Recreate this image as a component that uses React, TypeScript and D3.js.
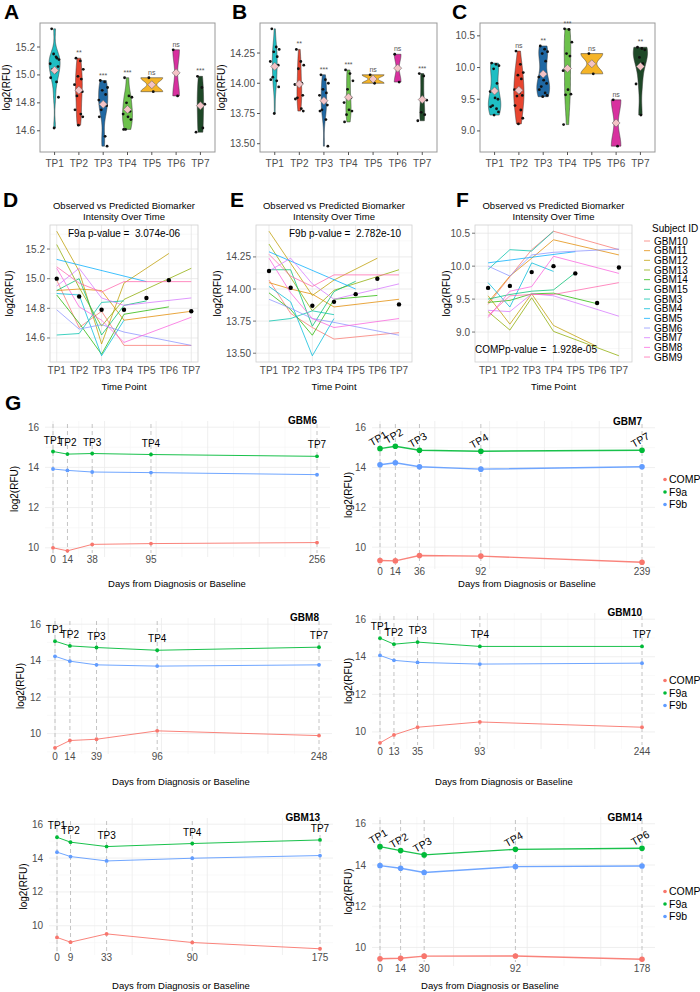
import React from 'react';
import * as d3 from 'd3';

const FONT = '"Liberation Sans", Arial, Helvetica, sans-serif';

const TIMEPOINTS = ['TP1', 'TP2', 'TP3', 'TP4', 'TP5', 'TP6', 'TP7'];
const TP_COLORS = ['#1fbec3', '#e8452f', '#1f68a3', '#6cc14b', '#f5b427', '#d8309f', '#1e4827'];

// observations per time point (violins)
const f9aByTp = [
  [15.33, 15.13, 15.11, 15.15, 15.12, 15.08, 15.02, 15.06, 15.04, 14.98, 14.95, 14.84, 14.62],
  [15.12, 15.10, 15.04, 14.99, 14.97, 14.93, 14.89, 14.88, 14.85, 14.75, 14.72, 14.70, 14.64],
  [14.96, 14.95, 14.91, 14.89, 14.86, 14.82, 14.80, 14.78, 14.75, 14.70, 14.56, 14.49],
  [14.98, 14.85, 14.84, 14.80, 14.74, 14.72, 14.70, 14.68, 14.61, 14.61],
  [14.98, 14.88],
  [15.18, 14.85],
  [14.99, 14.91, 14.79, 14.78, 14.62, 14.59],
];
const f9bByTp = [
  [14.45, 14.30, 14.28, 14.26, 14.22, 14.18, 14.15, 14.15, 14.05, 14.03, 14.02, 13.97, 13.75],
  [14.28, 14.18, 14.15, 14.12, 14.00, 13.99, 13.99, 13.90, 13.88, 13.87, 13.79, 13.77],
  [14.07, 14.03, 14.00, 13.95, 13.92, 13.90, 13.85, 13.82, 13.78, 13.77, 13.70, 13.48],
  [14.11, 14.08, 14.02, 13.95, 13.88, 13.84, 13.78, 13.77, 13.74, 13.68],
  [14.07, 14.00],
  [14.24, 14.01],
  [14.08, 14.06, 13.86, 13.76, 13.74, 13.69],
];
const compByTp = [
  [10.07, 10.05, 10.03, 9.98, 9.75, 9.62, 9.52, 9.50, 9.40, 9.38, 9.35, 9.30, 9.25],
  [10.26, 10.05, 9.92, 9.88, 9.82, 9.65, 9.60, 9.56, 9.55, 9.40, 9.33, 9.20, 9.11],
  [10.34, 10.29, 10.25, 10.22, 10.10, 9.85, 9.80, 9.75, 9.70, 9.65, 9.60, 9.56, 9.54],
  [10.61, 10.60, 10.40, 10.22, 10.18, 9.95, 9.65, 9.58, 9.57, 9.10],
  [10.22, 9.90],
  [9.49, 8.76],
  [10.32, 10.30, 10.28, 10.16, 10.06, 9.74, 9.25],
];

const sigF9a = ['', '**', '***', '***', 'ns', 'ns', '***'];
const sigF9b = ['', '**', '***', '***', 'ns', 'ns', '***'];
const sigComp = ['', 'ns', '**', '***', 'ns', 'ns', '**'];

const ticksF9a = [14.6, 14.8, 15.0, 15.2];
const ticksF9b = [13.5, 13.75, 14.0, 14.25];
const ticksComp = [9.0, 9.5, 10.0, 10.5];

// per-subject trajectories, TP1..TP7 (null = not sampled)
const SUBJECTS = ['GBM10', 'GBM11', 'GBM12', 'GBM13', 'GBM14', 'GBM15', 'GBM3', 'GBM4', 'GBM5', 'GBM6', 'GBM7', 'GBM8', 'GBM9'];
const SUBJECT_COLORS = ['#F8766D', '#E18A00', '#BE9C00', '#8CAB00', '#24B700', '#00BE70', '#00C1AB', '#00BBDA', '#00ACFC', '#8B93FF', '#D575FE', '#F962DD', '#FF65AC'];

const f9aBySubject = [
  [14.99, 14.67, 14.78, 14.55, null, null, 14.55],
  [14.92, 14.93, 14.92, 14.72, null, null, 14.78],
  [15.32, 15.05, 14.56, 14.97, null, 15.17, null],
  [15.23, 14.94, 14.68, 14.86, null, null, 15.07],
  [14.89, 14.70, 14.49, 14.76, null, 14.81, null],
  [14.92, 15.00, 14.62, 14.82, 14.85, null, null],
  [14.62, 14.63, 14.84, 14.85, null, null, null],
  [14.90, 14.89, 14.48, 14.72, null, null, null],
  [15.13, null, null, null, 14.98, null, null],
  [14.79, 14.66, 14.69, 14.64, null, null, 14.55],
  [14.95, 15.07, 14.87, 14.82, null, null, 14.87],
  [15.07, 14.81, 14.72, 14.57, null, null, 14.74],
  [15.08, 14.97, 14.91, 14.98, null, null, 14.98],
];
const f9bBySubject = [
  [14.07, 13.81, 13.70, 13.61, null, null, 13.66],
  [14.05, 14.00, 13.96, 13.86, null, null, 13.92],
  [14.45, 14.20, 13.95, 14.07, null, 14.24, null],
  [14.35, 14.09, 13.83, 13.99, null, null, 14.15],
  [13.97, 13.84, 13.64, 13.92, null, 13.95, null],
  [14.15, 14.15, 13.71, 13.98, 14.06, null, null],
  [13.75, 13.77, 13.83, 13.80, null, null, null],
  [14.02, 13.90, 13.48, 13.77, null, null, null],
  [14.29, null, null, null, 14.00, null, null],
  [13.92, 13.85, 13.77, 13.74, null, null, 13.64],
  [14.14, 14.24, 14.04, 13.92, null, null, 14.04],
  [14.24, 13.97, 13.77, 13.70, null, null, 13.77],
  [14.27, 14.10, 14.02, 14.11, null, null, 14.11],
];
const compBySubject = [
  [9.42, 9.84, 10.25, 10.53, null, null, 10.25],
  [9.45, 9.85, 10.12, 10.40, null, null, 10.17],
  [9.55, 9.12, 9.58, 9.10, null, 8.78, null],
  [9.31, 9.03, 9.52, 9.01, null, null, 8.64],
  [9.45, 9.48, 9.58, 9.59, null, 9.43, null],
  [9.50, 9.57, 9.62, 9.64, 9.90, null, null],
  [9.95, 10.25, 10.23, 10.53, null, null, null],
  [9.75, 9.38, 10.05, 9.92, null, null, null],
  [10.05, null, null, null, 10.22, null, null],
  [10.00, 9.85, 10.17, 10.21, null, null, 10.26],
  [9.33, 9.31, 9.58, 9.55, null, null, 9.24],
  [9.22, 9.62, 9.69, 10.15, null, null, 9.89],
  [9.25, 9.55, 9.57, 9.57, null, null, 9.75],
];

// model predictions (black dots)
const predF9a = [15.00, 14.88, 14.79, 14.79, 14.87, 14.99, 14.78];
const predF9b = [14.14, 14.01, 13.87, 13.90, 13.96, 14.08, 13.88];
const predComp = [9.67, 9.70, 9.91, 10.00, 9.89, 9.44, 9.98];

// individual timelines
const caseIds = ['GBM6', 'GBM7', 'GBM8', 'GBM10', 'GBM13', 'GBM14'];
const caseDays = [
  [0, 14, 38, 95, 256],
  [0, 14, 36, 92, 239],
  [0, 14, 39, 96, 248],
  [0, 13, 35, 93, 244],
  [0, 9, 33, 90, 175],
  [0, 14, 30, 92, 178],
];
const caseTps = [
  [0, 1, 2, 3, 6],
  [0, 1, 2, 3, 6],
  [0, 1, 2, 3, 6],
  [0, 1, 2, 3, 6],
  [0, 1, 2, 3, 6],
  [0, 1, 2, 3, 5],
];
const MARKERS = ['COMP', 'F9a', 'F9b'];
const MARKER_COLORS = ['#F8766D', '#00BA38', '#619CFF'];

const JITTER = [-0.6, 0.3, 0.9, -0.2, 0.5, -0.9, 0.1, 0.7, -0.4, -0.8, 0.4, 0.8, -0.1];

const gauss = (u: number) => Math.exp(-0.5 * u * u) / Math.sqrt(2 * Math.PI);

// gaussian kde trimmed to the data range, nrd0 bandwidth
function kde(values: number[], steps = 80): [number, number][] {
  const v = [...values].sort(d3.ascending);
  const sd = d3.deviation(v) ?? 0;
  const iqr = (d3.quantile(v, 0.75) ?? 0) - (d3.quantile(v, 0.25) ?? 0);
  let lo = Math.min(sd, iqr / 1.34);
  if (!(lo > 0)) lo = sd || 1;
  const bw = 0.9 * lo * Math.pow(v.length, -0.2);
  const [a, b] = d3.extent(v) as [number, number];
  return d3.range(steps + 1).map(i => {
    const y = a + ((b - a) * i) / steps;
    return [y, (d3.mean(v, x => gauss((y - x) / bw)) ?? 0) / bw];
  });
}

const paddedExtent = (vals: number[]) => {
  const [mn, mx] = d3.extent(vals) as [number, number];
  const p = (mx - mn) * 0.05;
  return [mn - p, mx + p];
};

const violinPanels = [
  { letter: 'A', letterX: 4, groups: f9aByTp, ticks: ticksF9a, fmt: '.1f', sig: sigF9a, left: 40, right: 215, ylabX: 7 },
  { letter: 'B', letterX: 232, groups: f9bByTp, ticks: ticksF9b, fmt: '.2f', sig: sigF9b, left: 260, right: 437, ylabX: 222 },
  { letter: 'C', letterX: 452, groups: compByTp, ticks: ticksComp, fmt: '.1f', sig: sigComp, left: 480, right: 655, ylabX: null },
];

function ViolinPanel({ cfg }: { cfg: any }) {
  const top = 23, bottom = 152;
  const x = d3.scalePoint<string>().domain(TIMEPOINTS).range([cfg.left, cfg.right]).padding(0.6);
  const y = d3.scaleLinear().domain(paddedExtent(cfg.groups.flat())).range([bottom, top]);
  const dens = cfg.groups.map((g: number[]) => kde(g));
  // equal-area violins: widths share one density scale across the panel
  const dMax = d3.max(dens.flat() as [number, number][], d => d[1]) ?? 1;
  const half = x.step() * 0.45;
  const fmt = d3.format(cfg.fmt);
  return (
    <g>
      <text x={cfg.letterX} y={19} fontSize={21} fontWeight="bold" fontFamily={FONT}>{cfg.letter}</text>
      <rect x={cfg.left} y={top} width={cfg.right - cfg.left} height={bottom - top} fill="#fff" stroke="#999" strokeWidth={1} />
      {cfg.ticks.map((t: number) => (
        <g key={t}>
          <line x1={cfg.left - 3} x2={cfg.left} y1={y(t)} y2={y(t)} stroke="#555" />
          <text x={cfg.left - 5} y={y(t) + 3.5} textAnchor="end" fontSize={10} fill="#4d4d4d" fontFamily={FONT}>{fmt(t)}</text>
        </g>
      ))}
      {cfg.groups.map((g: number[], i: number) => {
        const tp = TIMEPOINTS[i];
        const cx = x(tp) as number;
        const hw = (d: [number, number]) => half * (d[1] / dMax);
        const area = d3.area<[number, number]>()
          .y(d => y(d[0]))
          .x0(d => cx - hw(d))
          .x1(d => cx + hw(d));
        const m = d3.mean(g) as number;
        const my = y(m);
        const dd = 4;
        return (
          <g key={tp}>
            <path d={area(dens[i]) ?? ''} fill={TP_COLORS[i]} stroke="#333" strokeWidth={0.5} />
            {g.map((v, j) => (
              <circle key={j} cx={cx + JITTER[j % JITTER.length] * x.step() * 0.2} cy={y(v)} r={1.4} fill="#111" />
            ))}
            <path d={`M${cx},${my - dd}L${cx + dd},${my}L${cx},${my + dd}L${cx - dd},${my}Z`} fill="#f4c3c6" stroke="#6a6a6a" strokeWidth={0.6} />
            {cfg.sig[i] && (
              <text x={cx} y={y(d3.max(g) as number) - 3} textAnchor="middle" fontSize={7} fill="#555" fontFamily={FONT}>{cfg.sig[i]}</text>
            )}
            <line x1={cx} x2={cx} y1={bottom} y2={bottom + 3} stroke="#555" />
            <text x={cx} y={167} textAnchor="middle" fontSize={10} fill="#4d4d4d" fontFamily={FONT}>{tp}</text>
          </g>
        );
      })}
      {cfg.ylabX != null && (
        <text transform={`translate(${cfg.ylabX + 3},${(top + bottom) / 2}) rotate(-90)`} textAnchor="middle" fontSize={10} fontFamily={FONT}>log2(RFU)</text>
      )}
    </g>
  );
}

const trendPanels = [
  { letter: 'D', letterX: 3, data: f9aBySubject, pred: predF9a, ticks: ticksF9a, fmt: '.1f', note: 'F9a p-value =  3.074e-06', noteX: 124, noteY: 237, left: 50, right: 198, pad: 0.3, ylabX: 10 },
  { letter: 'E', letterX: 230, data: f9bBySubject, pred: predF9b, ticks: ticksF9b, fmt: '.2f', note: 'F9b p-value =  2.782e-10', noteX: 345, noteY: 237, left: 256, right: 412, pad: 0.6, ylabX: 218 },
  { letter: 'F', letterX: 456, data: compBySubject, pred: predComp, ticks: ticksComp, fmt: '.1f', note: 'COMPp-value =  1.928e-05', noteX: 536, noteY: 353, left: 475, right: 632, pad: 0.6, ylabX: 447 },
];

function TrendPanel({ cfg }: { cfg: any }) {
  const top = 225, bottom = 362;
  const x = d3.scalePoint<string>().domain(TIMEPOINTS).range([cfg.left, cfg.right]).padding(cfg.pad);
  const vals = (cfg.data as (number | null)[][]).flat().filter((v): v is number => v != null);
  const y = d3.scaleLinear().domain(paddedExtent(vals)).range([bottom, top]);
  const fmt = d3.format(cfg.fmt);
  const step = cfg.ticks[1] - cfg.ticks[0];
  const minor = d3.range(cfg.ticks[0] - step / 2, cfg.ticks[cfg.ticks.length - 1] + step, step).filter(v => y(v) > top && y(v) < bottom);
  const line = d3.line<[number, number]>();
  const cx = (cfg.left + cfg.right) / 2;
  return (
    <g fontFamily={FONT}>
      <text x={cfg.letterX} y={207} fontSize={21} fontWeight="bold">{cfg.letter}</text>
      <text x={cx} y={209} textAnchor="middle" fontSize={9.5}>Observed vs Predicted Biomarker</text>
      <text x={cx} y={220} textAnchor="middle" fontSize={9.5}>Intensity Over Time</text>
      <rect x={cfg.left} y={top} width={cfg.right - cfg.left} height={bottom - top} fill="#fff" />
      {minor.map(v => <line key={'m' + v} x1={cfg.left} x2={cfg.right} y1={y(v)} y2={y(v)} stroke="#f4f4f4" strokeWidth={0.6} />)}
      {cfg.ticks.map((t: number) => <line key={'g' + t} x1={cfg.left} x2={cfg.right} y1={y(t)} y2={y(t)} stroke="#e6e6e6" strokeWidth={0.8} />)}
      {TIMEPOINTS.map(tp => <line key={'v' + tp} x1={x(tp)} x2={x(tp)} y1={top} y2={bottom} stroke="#e6e6e6" strokeWidth={0.8} />)}
      <rect x={cfg.left} y={top} width={cfg.right - cfg.left} height={bottom - top} fill="none" stroke="#d0d0d0" strokeWidth={0.8} />
      {(cfg.data as (number | null)[][]).map((row, i) => {
        const pts = row
          .map((v, t) => (v == null ? null : [x(TIMEPOINTS[t]) as number, y(v)] as [number, number]))
          .filter((p): p is [number, number] => p != null);
        return <path key={SUBJECTS[i]} d={line(pts) ?? ''} fill="none" stroke={SUBJECT_COLORS[i]} strokeOpacity={0.75} strokeWidth={1} />;
      })}
      {cfg.pred.map((v: number, i: number) => <circle key={i} cx={x(TIMEPOINTS[i])} cy={y(v)} r={2.2} fill="#000" />)}
      <text x={cfg.noteX} y={cfg.noteY} textAnchor="middle" fontSize={10} style={{ whiteSpace: 'pre' }}>{cfg.note}</text>
      {cfg.ticks.map((t: number) => (
        <g key={t}>
          <line x1={cfg.left - 3} x2={cfg.left} y1={y(t)} y2={y(t)} stroke="#777" />
          <text x={cfg.left - 5} y={y(t) + 3.5} textAnchor="end" fontSize={10} fill="#4d4d4d">{fmt(t)}</text>
        </g>
      ))}
      {TIMEPOINTS.map(tp => <text key={tp} x={x(tp)} y={374} textAnchor="middle" fontSize={10} fill="#4d4d4d">{tp}</text>)}
      <text x={cx} y={390} textAnchor="middle" fontSize={9.5}>Time Point</text>
      <text transform={`translate(${cfg.ylabX + 3},${(top + bottom) / 2}) rotate(-90)`} textAnchor="middle" fontSize={10}>log2(RFU)</text>
    </g>
  );
}

function SubjectLegend() {
  return (
    <g fontFamily={FONT}>
      <text x={652} y={232} fontSize={10}>Subject ID</text>
      {SUBJECTS.map((s, i) => {
        const yy = 241 + i * 9.67;
        return (
          <g key={s}>
            <line x1={644} x2={650} y1={yy} y2={yy} stroke={SUBJECT_COLORS[i]} strokeOpacity={0.75} strokeWidth={1} />
            <text x={654} y={yy + 3.5} fontSize={10}>{s}</text>
          </g>
        );
      })}
    </g>
  );
}

const casePanels = [
  { left: 45, right: 330, top: 421, bottom: 557, titleX: 177, titleY: 587, ylabX: 15, legendY: null, angle: 0, big: false },
  { left: 372, right: 655, top: 421, bottom: 569, titleX: 527, titleY: 587, ylabX: 349, legendY: 492, angle: -30, big: true },
  { left: 47, right: 332, top: 618, bottom: 754, titleX: 181, titleY: 785, ylabX: 21, legendY: null, angle: 0, big: false },
  { left: 372, right: 655, top: 613, bottom: 749, titleX: 504, titleY: 785, ylabX: 349, legendY: 693, angle: 0, big: false },
  { left: 49, right: 333, top: 818, bottom: 955, titleX: 181, titleY: 989, ylabX: 24, legendY: null, angle: 0, big: false },
  { left: 372, right: 655, top: 817, bottom: 966, titleX: 490, titleY: 989, ylabX: 349, legendY: 904, angle: -30, big: true },
];

function CasePanel({ idx }: { idx: number }) {
  const cfg = casePanels[idx];
  const s = SUBJECTS.indexOf(caseIds[idx]);
  const days = caseDays[idx];
  const tps = caseTps[idx];
  const series = [compBySubject, f9aBySubject, f9bBySubject].map(src => tps.map(t => src[s][t] as number));
  const x = d3.scaleLinear().domain([0, d3.max(days) as number]).range([cfg.left + 8, cfg.right - 13]);
  const minV = d3.min(series.flat()) as number;
  const ext = (16 - minV) * 0.05;
  const y = d3.scaleLinear().domain([minV - ext, 16 + ext]).range([cfg.bottom, cfg.top]);
  const major = y.ticks(4).filter(v => v % 2 === 0);
  const minor = d3.range(Math.ceil(minV - ext), 17).filter(v => v % 2 === 1 && y(v) > cfg.top && y(v) < cfg.bottom);
  const vGrid = x.ticks(5);
  const vMinor = d3.range(25, x.domain()[1], 50);
  const r = cfg.big ? 2.8 : 1.9;
  const sw = cfg.big ? 1.4 : 1;
  const line = d3.line<number>().x((_, i) => x(days[i])).y(v => y(v));
  return (
    <g fontFamily={FONT}>
      {minor.map(v => <line key={'m' + v} x1={cfg.left} x2={cfg.right} y1={y(v)} y2={y(v)} stroke="#f5f5f5" strokeWidth={0.6} />)}
      {vMinor.map(v => <line key={'vm' + v} x1={x(v)} x2={x(v)} y1={cfg.top} y2={cfg.bottom} stroke="#f5f5f5" strokeWidth={0.6} />)}
      {major.map(v => <line key={'g' + v} x1={cfg.left} x2={cfg.right} y1={y(v)} y2={y(v)} stroke="#ebebeb" strokeWidth={0.8} />)}
      {vGrid.map(v => <line key={'vg' + v} x1={x(v)} x2={x(v)} y1={cfg.top} y2={cfg.bottom} stroke="#ebebeb" strokeWidth={0.8} />)}
      {days.map(d => <line key={'d' + d} x1={x(d)} x2={x(d)} y1={cfg.top + 3} y2={cfg.bottom - 4} stroke="#b5b5b5" strokeWidth={0.8} strokeDasharray="4,3" />)}
      {series.map((vals, k) => (
        <g key={MARKERS[k]}>
          <path d={line(vals) ?? ''} fill="none" stroke={MARKER_COLORS[k]} strokeWidth={sw} strokeOpacity={0.9} />
          {vals.map((v, i) => <circle key={i} cx={x(days[i])} cy={y(v)} r={r} fill={MARKER_COLORS[k]} />)}
        </g>
      ))}
      {tps.map((t, i) => {
        const px = x(days[i]);
        const py = y(series[1][i]) - (cfg.angle ? 7 : 8);
        return (
          <text key={t} transform={`translate(${px},${py}) rotate(${cfg.angle})`} textAnchor="middle" fontSize={cfg.big ? 10.5 : 10}>{TIMEPOINTS[t]}</text>
        );
      })}
      <text x={x(d3.max(days) as number)} y={y(16) - 3} textAnchor="end" fontSize={10} fontWeight="bold">{caseIds[idx]}</text>
      {major.map(v => (
        <text key={'t' + v} x={cfg.left - 6} y={y(v) + 3.5} textAnchor="end" fontSize={10} fill="#4d4d4d">{v}</text>
      ))}
      {days.map(d => (
        <text key={'dl' + d} x={x(d)} y={cfg.bottom + 6} textAnchor="middle" fontSize={10} fill="#4d4d4d">{d}</text>
      ))}
      <text x={cfg.titleX} y={cfg.titleY} textAnchor="middle" fontSize={9.5}>Days from Diagnosis or Baseline</text>
      <text transform={`translate(${cfg.ylabX + 3},${(cfg.top + cfg.bottom) / 2}) rotate(-90)`} textAnchor="middle" fontSize={10}>log2(RFU)</text>
      {cfg.legendY != null && MARKERS.map((m, k) => {
        const ly = (cfg.legendY as number) + (k - 1) * 12.5;
        return (
          <g key={m}>
            <circle cx={665} cy={ly} r={1.8} fill={MARKER_COLORS[k]} />
            <text x={669} y={ly + 3.5} fontSize={10.5}>{m}</text>
          </g>
        );
      })}
    </g>
  );
}

export default function App() {
  return (
    <svg width={700} height={992} viewBox="0 0 700 992" style={{ position: 'absolute', left: 0, top: 0, background: '#fff' }}>
      <rect width={700} height={992} fill="#fff" />
      {violinPanels.map(p => <ViolinPanel key={p.letter} cfg={p} />)}
      {trendPanels.map(p => <TrendPanel key={p.letter} cfg={p} />)}
      <SubjectLegend />
      <text x={5} y={410} fontSize={21} fontWeight="bold" fontFamily={FONT}>G</text>
      {casePanels.map((_, i) => <CasePanel key={i} idx={i} />)}
    </svg>
  );
}
